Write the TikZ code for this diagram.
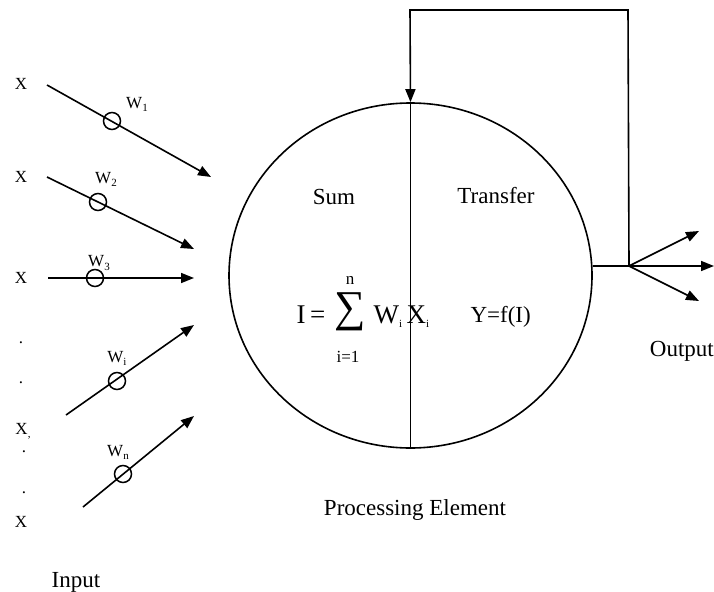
\documentclass[tikz,border=0pt]{standalone}
\usepackage{fontspec}
\setmainfont{Liberation Serif}
\usetikzlibrary{shapes.geometric, arrows.meta}

\newcommand{\wsub}[1]{\raisebox{-0.4ex}{\fontsize{11}{11}\selectfont #1}}

\tikzset{
    wire/.style={line width=1.6pt, -{Triangle[length=13pt,width=10pt]}},
    weight/.style={draw, circle, line width=1.5pt, minimum size=17pt, inner sep=0pt},
    lbl/.style={font=\fontsize{23}{26}\selectfont},
    inlbl/.style={font=\fontsize{17}{20}\selectfont},
    dot/.style={font=\fontsize{17}{20}\selectfont, inner sep=0pt},
}

\begin{document}
\begin{tikzpicture}[x=1pt, y=-1pt]

    \useasboundingbox (0,0) rectangle (714,591);

    % Processing element
    \node[draw, ellipse, line width=1.6pt, minimum width=363pt, minimum height=345pt] (pe) at (410.5,275.5) {};
    \coordinate (top) at (410,10);
    \coordinate (corner) at (628,10);
    \coordinate (hub) at (629,266);
    \draw[line width=1.6pt] (pe.north) -- (pe.south);
    \draw[wire] (hub) -- (corner) -- (top) -- (pe.north);
    \node[lbl] (sum) at (334,197) {Sum};
    \node[lbl] (transfer) at (496,196) {Transfer};

    % Sum and transfer formulas
    \node[font=\fontsize{27}{30}\selectfont, anchor=base west] (eqI) at (293,323) {I\,=};
    \node[font=\fontsize{44}{48}\selectfont, inner sep=0pt] (sigma) at (350,312) {∑};
    \node[inlbl, inner sep=0pt] (upper) at (350,280) {n};
    \node[inlbl, inner sep=0pt] (lower) at (348,357) {i=1};
    \node[font=\fontsize{27}{30}\selectfont, anchor=base west] (wx) at (370,323)
        {W\wsub{i}\,X\wsub{i}};
    \node[font=\fontsize{23}{26}\selectfont, anchor=base west] (fun) at (467,322) {Y=f(I)};
    \node[lbl] (pelabel) at (415,510) {Processing Element};

    % Output
    \coordinate (out1) at (699,231);
    \coordinate (out2) at (714,266);
    \coordinate (out3) at (699,301);
    \draw[line width=1.6pt] (pe.east |- hub) -- (hub);
    \draw[wire] (hub) -- (out1);
    \draw[wire] (hub) -- (out2);
    \draw[wire] (hub) -- (out3);
    \node[lbl, anchor=east, inner sep=0pt] (output) at (714,351) {Output};

    % Inputs
    \node[inlbl] (x1) at (21,84) {X};
    \node[inlbl] (x2) at (21,177) {X};
    \node[inlbl] (x3) at (21,278) {X};
    \node[dot] (d1) at (21,343) {.};
    \node[dot] (d2) at (21,383) {.};
    \node[inlbl, inner sep=0pt] (xi) at (23,431) {X\wsub{,}};
    \node[dot] (d3) at (24,452) {.};
    \node[dot] (d4) at (24,493) {.};
    \node[inlbl] (xn) at (21,522) {X};
    \node[lbl] (input) at (76,582) {Input};

    \coordinate (s1) at (47,85);   \coordinate (t1) at (211,177);
    \coordinate (s2) at (47,177);  \coordinate (t2) at (194,249);
    \coordinate (s3) at (48,278);  \coordinate (t3) at (194,278);
    \coordinate (s4) at (66,415);  \coordinate (t4) at (194,325);
    \coordinate (s5) at (83,507);  \coordinate (t5) at (194,416);
    \foreach \k in {1,...,5}
        \draw[wire] (s\k) -- (t\k);

    \node[weight] (w1) at (112,121) {};
    \node[weight] (w2) at (98,202) {};
    \node[weight] (w3) at (95,278) {};
    \node[weight] (w4) at (117,381) {};
    \node[weight] (w5) at (123,474) {};
    \node[inlbl] at (137,104) {W\wsub{1}};
    \node[inlbl] at (106,179) {W\wsub{2}};
    \node[inlbl] at (99,263) {W\wsub{3}};
    \node[inlbl] at (117,358) {W\wsub{i}};
    \node[inlbl] at (118,452) {W\wsub{n}};

\end{tikzpicture}
\end{document}
